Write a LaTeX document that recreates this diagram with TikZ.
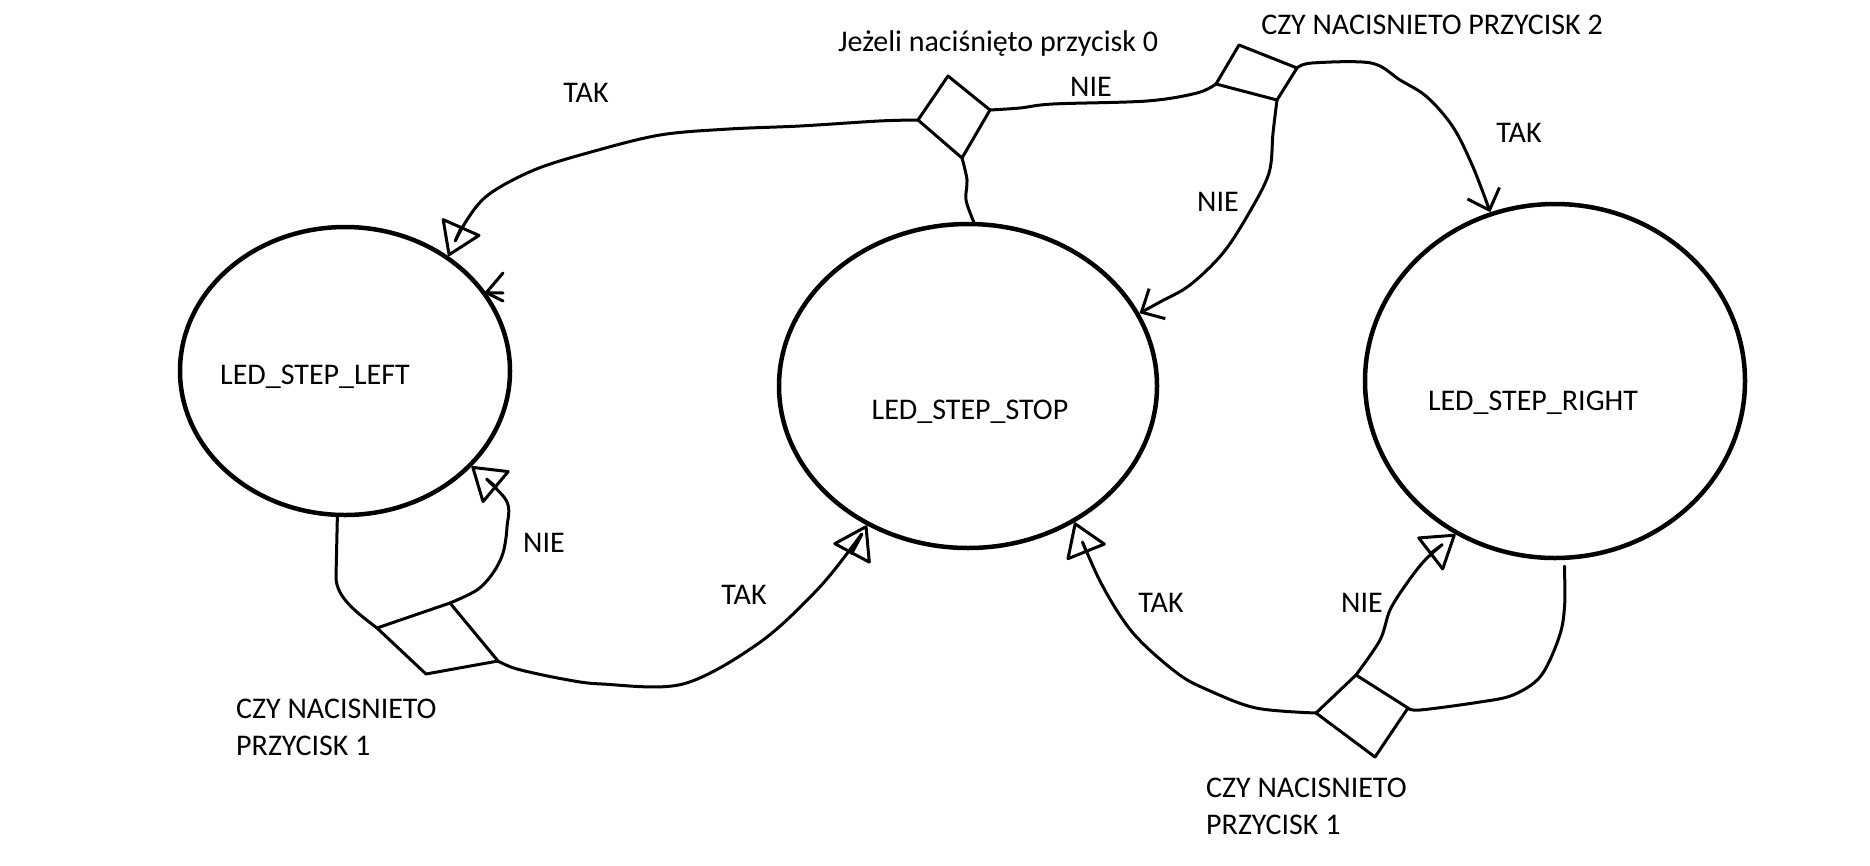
\documentclass[tikz,border=0pt]{standalone}
\usepackage{fontspec}
\setmainfont{Carlito}
\usetikzlibrary{shapes.geometric,arrows.meta}
\begin{document}
\begin{tikzpicture}[x=1pt,y=-1pt,
  state/.style={draw, ellipse, line width=4.5pt, inner sep=0pt},
  conn/.style={line width=3pt, line cap=round, line join=round},
  quad/.style={line width=3pt, line join=round},
  lbl/.style={anchor=base, inner sep=0pt, font=\fontsize{30}{37}\selectfont},
  blk/.style={anchor=north west, align=left, inner sep=0pt, font=\fontsize{30}{37}\selectfont},
  triarrow/.style={-{Triangle[open,length=34pt,width=44pt,line join=round]}},
  veearrow/.style={-{Straight Barb[length=18pt,width=34pt]}},
]
\fill[white] (0,0) rectangle (1870,865);

% states
\node[state, minimum width=330pt, minimum height=288pt,
  label={[lbl, xshift=-30pt, yshift=-6pt]center:LED\_STEP\_LEFT}] (L) at (345,371) {};
\node[state, minimum width=378pt, minimum height=324pt,
  label={[lbl, xshift=2pt, yshift=-26pt]center:LED\_STEP\_STOP}] (M) at (968,386) {};
\node[state, minimum width=380pt, minimum height=354pt,
  label={[lbl, xshift=-22pt, yshift=-22pt]center:LED\_STEP\_RIGHT}] (R) at (1555,381) {};

% decision diamonds (corners)
\coordinate (d0t) at (948,76);  \coordinate (d0r) at (990,110);
\coordinate (d0b) at (962,158); \coordinate (d0l) at (918,120);
\coordinate (d2t) at (1239,45); \coordinate (d2r) at (1297,68);
\coordinate (d2b) at (1277,100);\coordinate (d2l) at (1216,84);
\coordinate (d1l) at (377,628); \coordinate (d1t) at (450,603);
\coordinate (d1r) at (498,661); \coordinate (d1b) at (426,674);
\coordinate (d3l) at (1316,713);\coordinate (d3t) at (1356,675);
\coordinate (d3r) at (1408,708);\coordinate (d3b) at (1375,757);

\draw[quad] (d0t) -- (d0r) -- (d0b) -- (d0l) -- cycle;
\draw[quad] (d2t) -- (d2r) -- (d2b) -- (d2l) -- cycle;
\draw[quad] (d1l) -- (d1t) -- (d1r) -- (d1b) -- cycle;
\draw[quad] (d3l) -- (d3t) -- (d3r) -- (d3b) -- cycle;

% connectors
\draw[conn, triarrow] plot[smooth, tension=0.55] coordinates {(d0l) (879,121) (800,126) (729,129) (660,135) (591,152) (534,170) (488,195) (465,223) (L.48)};
\draw[conn] plot[smooth, tension=0.55] coordinates {(d0r) (1020,108) (1053,104) (1147,101) (1197,93) (d2l)};
\draw[conn] plot[smooth, tension=0.55] coordinates {(d0b) (967,180) (966,200) (M.88)};
\draw[conn, veearrow] plot[smooth, tension=0.55] coordinates {(d2r) (1312,63) (1371,63) (1400,80) (1427,97) (1453,127) (1473,167) (R.111)};
\draw[conn, veearrow] plot[smooth, tension=0.55] coordinates {(d2b) (1273,133) (1269,173) (1249,213) (1223,253) (1190,285) (1160,302) (M.23)};
\draw[conn] (L.-93) -- (336,577) .. controls (336,597) and (356,612) .. (d1l);
\draw[conn, triarrow] plot[smooth, tension=0.55] coordinates {(d1t) (477,590) (493,573) (503,553) (507,527) (506,500) (L.-37)};
\draw[conn, triarrow] plot[smooth, tension=0.55] coordinates {(d1r) (517,669) (563,679) (602,684) (683,684) (759,643) (817,590) (855,543) (M.234)};
\draw[conn, triarrow] plot[smooth, tension=0.55] coordinates {(d3l) (1256,708) (1208,690) (1177,673) (1133,633) (1101,583) (M.-52)};
\draw[conn, triarrow] plot[smooth, tension=0.55] coordinates {(d3t) (1380,640) (1390,610) (1407,583) (1427,558) (R.-123)};
\draw[conn, shorten <=6pt] plot[smooth, tension=0.55] coordinates {(R.-87) (1564,613) (1557,643) (1540,677) (1513,695) (1480,702) (1420,710) (d3r)};

% stray arrowhead on the left state
\coordinate (sa) at (L.29);
\draw[conn] (503,273) -- (sa) -- (503,293);
\draw[conn] (sa) -- (503,301);

% labels
\node[lbl] (t1) at (586,102) {TAK};
\node[lbl] (n1) at (1091,96) {NIE};
\node[lbl] (q0) at (998,51) {Jeżeli naciśnięto przycisk 0};
\node[lbl] (q2) at (1432,34) {CZY NACISNIETO PRZYCISK 2};
\node[lbl] (t2) at (1519,142) {TAK};
\node[lbl] (n2) at (1218,211) {NIE};
\node[lbl] (n3) at (544,552) {NIE};
\node[lbl] (t3) at (744,604) {TAK};
\node[lbl] (t4) at (1161,612) {TAK};
\node[lbl] (n4) at (1362,612) {NIE};
\node[blk] (q1a) at (236,699) {CZY NACISNIETO\\PRZYCISK 1};
\node[blk] (q1b) at (1206,778) {CZY NACISNIETO\\PRZYCISK 1};
\end{tikzpicture}
\end{document}
